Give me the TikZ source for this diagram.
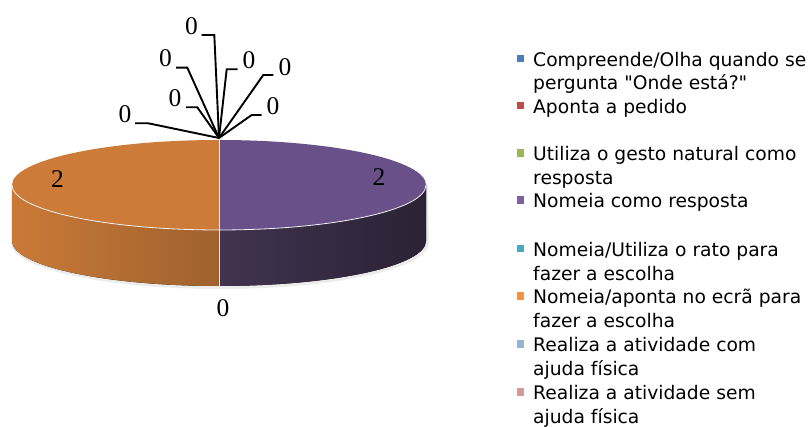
\documentclass[tikz,border=0pt]{standalone}
\usepackage{fontspec}
\setmainfont{Liberation Serif}
\newfontfamily\legfont{DejaVu Sans}
\definecolor{ortop}{HTML}{CC7B38}
\definecolor{orsideA}{HTML}{CA7A37}
\definecolor{orsideB}{HTML}{9F612E}
\definecolor{putop}{HTML}{6A5088}
\definecolor{pusideA}{HTML}{423350}
\definecolor{pusideB}{HTML}{2A2234}
\definecolor{cblue}{HTML}{4A7EBB}
\definecolor{cred}{HTML}{BE4B48}
\definecolor{cgreen}{HTML}{98B954}
\definecolor{cpurple}{HTML}{7D60A0}
\definecolor{cteal}{HTML}{46AAC5}
\definecolor{corange}{HTML}{F69240}
\definecolor{clblue}{HTML}{95B3D7}
\definecolor{cpink}{HTML}{D99795}
\begin{document}
\begin{tikzpicture}[x=1pt,y=1pt,
  val/.style={inner sep=0pt,font=\fontsize{25.5}{25.5}\selectfont},
  leader/.style={line width=1.9pt,black},
  leg/.style={anchor=base west,inner sep=0pt,font=\legfont\fontsize{18.7}{18.7}\selectfont},
  key/.style={minimum size=7.5pt,inner sep=0pt,fill=#1}]
\useasboundingbox (0,0) rectangle (811,427);
% shadow
\fill[gray!15] (11,242) -- (11,184) arc[start angle=180,end angle=360,x radius=209,y radius=46] -- (428,242) -- cycle;
% sides
\fill[left color=orsideA,right color=orsideB] (12,242) -- (12,186)
  arc[start angle=180,end angle=270,x radius=207,y radius=45] -- (219,197)
  arc[start angle=270,end angle=180,x radius=207,y radius=45] -- cycle;
\fill[left color=pusideA,right color=pusideB] (219,197) -- (219,141)
  arc[start angle=270,end angle=360,x radius=207,y radius=45] -- (426,242)
  arc[start angle=0,end angle=-90,x radius=207,y radius=45] -- cycle;
\draw[white!85!gray,line width=0.8pt] (219,197) -- (219,141);
% tops
\fill[ortop] (219,242) -- (219,287) arc[start angle=90,end angle=270,x radius=207,y radius=45] -- cycle;
\fill[putop] (219,242) -- (219,197) arc[start angle=270,end angle=450,x radius=207,y radius=45] -- cycle;
\draw[white!90!gray,line width=0.8pt] (12,242) arc[start angle=180,end angle=360,x radius=207,y radius=45];
\draw[white!90!gray,line width=0.8pt] (219,287) -- (219,197);
% value labels
\node[val] (v1) at (57.5,247.5) {2};
\node[val] (v2) at (379,249.5) {2};
\node[val] (v3) at (223,118.5) {0};
\coordinate (top) at (219,289);
\node[val] (z1) at (191.5,401.3) {0};
\node[val] (z2) at (165.5,369) {0};
\node[val] (z3) at (175,328.5) {0};
\node[val] (z4) at (125,312.5) {0};
\node[val] (z5) at (249,367) {0};
\node[val] (z6) at (285,360) {0};
\node[val] (z7) at (273,321) {0};
\coordinate (b1) at (214.3,392); \coordinate (e1) at (201.7,392);
\coordinate (b2) at (187.3,359.3); \coordinate (e2) at (176,359.3);
\coordinate (b3) at (197.3,319.7); \coordinate (e3) at (186,319.7);
\coordinate (b4) at (148.3,303.7); \coordinate (e4) at (135,303.7);
\coordinate (b5) at (226.7,357.7); \coordinate (e5) at (237.7,357.7);
\coordinate (b6) at (263.3,352); \coordinate (e6) at (273.3,352);
\coordinate (b7) at (251.7,312); \coordinate (e7) at (261.7,312);
\foreach \i in {1,...,7} {\draw[leader] (top) -- (b\i) -- (e\i);}
% legend
\node[key=cblue] (k1) at (520.5,368.7) {};
\node[key=cred] (k2) at (520.5,321.7) {};
\node[key=cgreen] (k3) at (520.5,274.2) {};
\node[key=cpurple] (k4) at (520.5,227.2) {};
\node[key=cteal] (k5) at (520.5,178.7) {};
\node[key=corange] (k6) at (520.5,131.2) {};
\node[key=clblue] (k7) at (520.5,83.2) {};
\node[key=cpink] (k8) at (520.5,35.2) {};
\node[leg] (t1a) at (533,360.5) {Compreende/Olha quando se};
\node[leg] (t1b) at (533,337) {pergunta "Onde está?"};
\node[leg] (t2) at (533,313.5) {Aponta a pedido};
\node[leg] (t3a) at (533,266) {Utiliza o gesto natural como};
\node[leg] (t3b) at (533,242.5) {resposta};
\node[leg] (t4) at (533,219) {Nomeia como resposta};
\node[leg] (t5a) at (533,170.5) {Nomeia/Utiliza o rato para};
\node[leg] (t5b) at (533,146.5) {fazer a escolha};
\node[leg] (t6a) at (533,123) {Nomeia/aponta no ecrã para};
\node[leg] (t6b) at (533,99) {fazer a escolha};
\node[leg] (t7a) at (533,75) {Realiza a atividade com};
\node[leg] (t7b) at (533,51) {ajuda física};
\node[leg] (t8a) at (533,27) {Realiza a atividade sem};
\node[leg] (t8b) at (533,3) {ajuda física};
\end{tikzpicture}
\end{document}
